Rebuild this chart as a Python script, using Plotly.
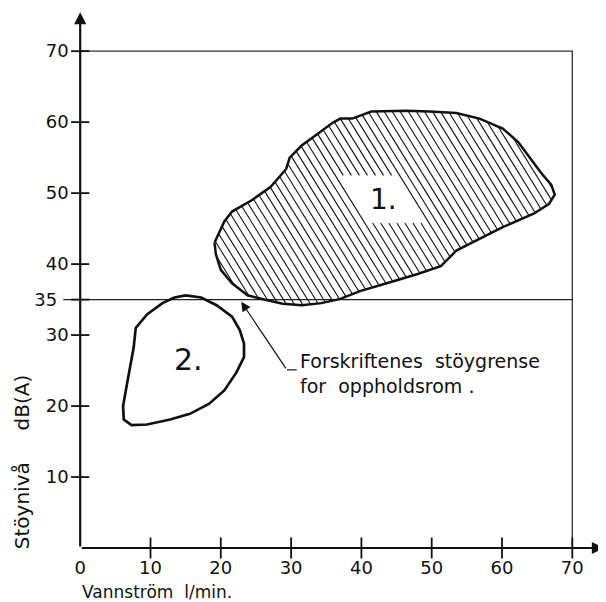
import numpy as np
import plotly.graph_objects as go

# ---------------- data ----------------
x_ticks = [0, 10, 20, 30, 40, 50, 60, 70]
y_ticks = [10, 20, 30, 35, 40, 50, 60, 70]
y_ticktext = ["10", "20", "30", "35\u00a0\u00a0", "40", "50", "60", "70"]
limit_db = 35  # Forskriftenes støygrense

# Region 1 outline (Vannstrøm l/min, dB(A))
r1_x = [19.1, 20.5, 21.6, 24.4, 27.1, 29.3, 29.8, 31.5, 33.7, 35.9, 37.0, 38.7,
        41.4, 46.4, 49.7, 53.5, 56.8, 60.1, 62.3, 63.9, 65.6, 67.0, 67.5, 66.7,
        64.5, 60.1, 56.8, 53.5, 51.3, 48.0, 43.6, 39.8, 37.0, 34.3, 31.5, 28.8,
        26.6, 23.8, 21.6, 20.0, 19.3, 19.1]
r1_y = [43.0, 46.0, 47.4, 49.0, 50.9, 53.4, 55.0, 56.7, 58.3, 59.9, 60.5, 60.5,
        61.5, 61.6, 61.5, 61.3, 60.5, 59.1, 57.2, 55.0, 52.8, 51.2, 49.8, 48.5,
        47.1, 45.2, 43.5, 41.9, 39.7, 38.6, 37.3, 36.2, 35.1, 34.5, 34.2, 34.4,
        34.9, 35.6, 37.3, 39.2, 41.4, 43.0]

# Region 2 outline
r2_x = [15.0, 17.2, 19.4, 21.6, 22.7, 23.3, 23.3, 22.2, 20.5, 18.3, 15.6, 12.8,
        9.5, 7.3, 6.2, 6.1, 6.8, 7.6, 7.9, 9.5, 11.7, 13.4, 15.0]
r2_y = [35.6, 35.3, 34.2, 32.6, 30.7, 28.8, 26.9, 24.7, 22.2, 20.3, 18.9, 18.1,
        17.4, 17.3, 18.1, 20.0, 23.9, 28.2, 31.0, 32.9, 34.5, 35.3, 35.6]

label1 = "1."
label2 = "2."
note_text = "Forskriftenes  stöygrense<br>for  oppholdsrom ."
x_title = "Vannström  l/min."
y_title = "Stöynivå     dB(A)"

# ---------------- layout constants ----------------
# page has an 8px body margin, so the figure is a bit smaller than the window
W, H = 598, 594
M_L, M_R, M_T, M_B = 0, 1, 2, 54
XR = [-10.27, 74.65]
YR = [0, 75.8]
Y_AXIS_POS = 10.27 / (XR[1] - XR[0])
INK = "#111111"
FONT = "DejaVu Sans"

# hatch geometry (angle of hatch lines, spacing in data units)
theta = np.deg2rad(58)
hd = np.array([np.cos(theta), -np.sin(theta)])
hn = np.array([np.sin(theta), np.cos(theta)])
spacing = 0.97
# clear window around label "1." : hatch band and y band
win_u = (58.9, 66.0)
win_y = (45.8, 52.5)


def hatch(px, py):
    P = np.column_stack([px, py])
    u_all = P @ hn
    xs, ys = [], []
    for c in np.arange(u_all.min() + spacing / 2, u_all.max(), spacing):
        ts = []
        for i in range(len(P) - 1):
            a, b = P[i], P[i + 1]
            den = hn @ (b - a)
            if abs(den) < 1e-12:
                continue
            s = (c - hn @ a) / den
            if 0 <= s < 1:
                q = a + s * (b - a)
                ts.append(hd @ q)
        ts.sort()
        segs = [(ts[k], ts[k + 1]) for k in range(0, len(ts) - 1, 2)]
        if win_u[0] <= c <= win_u[1]:
            t_hi = (win_y[1] - c * hn[1]) / hd[1]
            t_lo = (win_y[0] - c * hn[1]) / hd[1]
            new = []
            for t0, t1 in segs:
                if t0 < t_hi:
                    new.append((t0, min(t1, t_hi)))
                if t1 > t_lo:
                    new.append((max(t0, t_lo), t1))
            segs = new
        for t0, t1 in segs:
            p0 = c * hn + t0 * hd
            p1 = c * hn + t1 * hd
            xs += [p0[0], p1[0], None]
            ys += [p0[1], p1[1], None]
    return xs, ys


hx, hy = hatch(r1_x, r1_y)

fig = go.Figure()

# frame lines (top at 70, right at 70)
fig.add_trace(go.Scatter(x=[0, 70, 70], y=[70, 70, 0], mode="lines",
                         line=dict(color="#333", width=1.3), hoverinfo="skip"))
# limit line at 35 dB(A)
fig.add_trace(go.Scatter(x=[-2.4, 70], y=[limit_db, limit_db], mode="lines",
                         line=dict(color="#222", width=1.4), hoverinfo="skip"))
# hatch of region 1
fig.add_trace(go.Scatter(x=hx, y=hy, mode="lines",
                         line=dict(color=INK, width=1.1), hoverinfo="skip"))
# outlines
fig.add_trace(go.Scatter(x=r1_x, y=r1_y, mode="lines",
                         line=dict(color=INK, width=2.5), hoverinfo="skip"))
fig.add_trace(go.Scatter(x=r2_x, y=r2_y, mode="lines",
                         line=dict(color=INK, width=2.7), hoverinfo="skip"))
# tick marks crossing the axes
fig.add_trace(go.Scatter(x=[0] * len(y_ticks), y=y_ticks, mode="markers",
                         marker=dict(symbol="line-ew", size=13,
                                     line=dict(color=INK, width=1.8)),
                         cliponaxis=False, hoverinfo="skip"))
fig.add_trace(go.Scatter(x=x_ticks[1:], y=[0] * (len(x_ticks) - 1), mode="markers",
                         marker=dict(symbol="line-ns", size=15,
                                     line=dict(color=INK, width=1.8)),
                         cliponaxis=False, hoverinfo="skip"))
# leader stub of the note
fig.add_trace(go.Scatter(x=[29.4, 30.8], y=[25.1, 25.1], mode="lines",
                         line=dict(color=INK, width=1.2), hoverinfo="skip"))

ann = []
# axes with arrows
ann.append(dict(x=74.5, y=0, ax=0, ay=0, xref="x", yref="y", axref="x", ayref="y",
                text="", showarrow=True, arrowhead=2, arrowsize=1.1, arrowwidth=2.2,
                arrowcolor=INK, standoff=0, startstandoff=0))
ann.append(dict(x=0, y=75.5, ax=0, ay=0, xref="x", yref="y", axref="x", ayref="y",
                text="", showarrow=True, arrowhead=2, arrowsize=1.1, arrowwidth=2.2,
                arrowcolor=INK, standoff=0, startstandoff=0))
# note arrow
ann.append(dict(x=22.9, y=34.7, ax=29.4, ay=25.1, xref="x", yref="y", axref="x", ayref="y",
                text="", showarrow=True, arrowhead=2, arrowsize=1.6, arrowwidth=1.2,
                arrowcolor=INK, standoff=0, startstandoff=0))
ann.append(dict(x=31.0, y=24.6, xref="x", yref="y", text=note_text, showarrow=False,
                xanchor="left", yanchor="middle", align="left",
                font=dict(size=19, color=INK, family=FONT)))
ann.append(dict(x=43.1, y=49.1, xref="x", yref="y", text=label1, showarrow=False,
                font=dict(size=28, color=INK, family=FONT)))
ann.append(dict(x=15.4, y=26.6, xref="x", yref="y", text=label2, showarrow=False,
                font=dict(size=30, color=INK, family=FONT)))
# x axis title (left aligned at x = 0, below the tick labels)
ann.append(dict(x=0, y=-0.081, xref="x", yref="paper", text=x_title, showarrow=False,
                xanchor="left", yanchor="middle",
                font=dict(size=17, color=INK, family=FONT)))
ann.append(dict(x=-8.27, y=12.1, xref="x", yref="y", text=y_title, showarrow=False,
                textangle=-90, xanchor="center", yanchor="middle",
                font=dict(size=20, color=INK, family=FONT)))

fig.update_layout(
    width=W, height=H,
    margin=dict(l=M_L, r=M_R, t=M_T, b=M_B),
    paper_bgcolor="white", plot_bgcolor="white",
    showlegend=False,
    font=dict(family=FONT, color=INK),
    annotations=ann,
    xaxis=dict(range=XR, tickvals=x_ticks, ticks="outside", ticklen=3,
               tickcolor="rgba(0,0,0,0)", showgrid=False, zeroline=False,
               showline=False, tickfont=dict(size=18, color=INK, family=FONT)),
    yaxis=dict(range=YR, anchor="free", position=Y_AXIS_POS, side="left",
               tickvals=y_ticks, ticktext=y_ticktext, ticks="outside", ticklen=8,
               tickcolor="rgba(0,0,0,0)", showgrid=False, zeroline=False,
               showline=False, tickfont=dict(size=18, color=INK, family=FONT)),
)

fig.write_html("out.html")
